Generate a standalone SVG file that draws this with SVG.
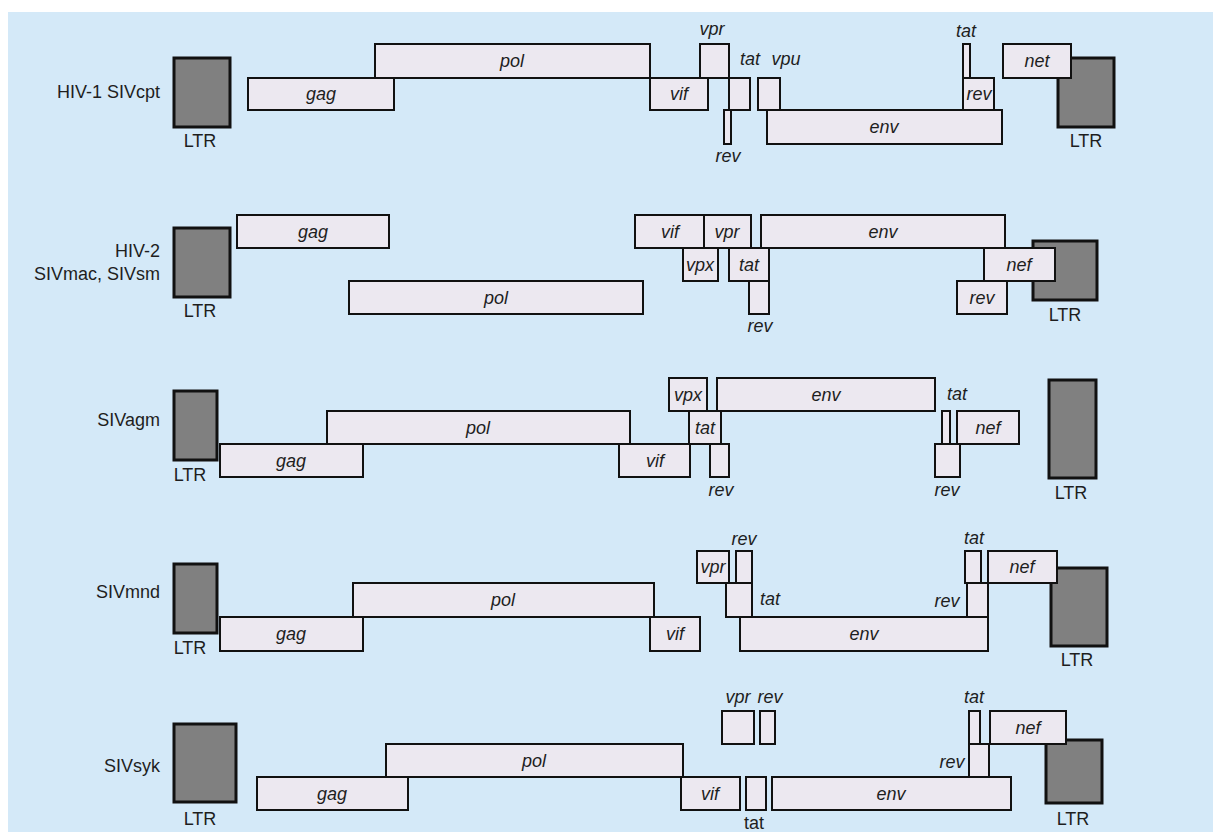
<svg xmlns="http://www.w3.org/2000/svg" width="1213" height="832" viewBox="0 0 1213 832">
<style>
.bg{fill:#d4e9f8}
.g rect{fill:#ece8f0;stroke:#111;stroke-width:2}
.ltr rect{fill:#808080;stroke:#111;stroke-width:3}
text{font-family:"Liberation Sans",Arial,sans-serif;font-size:18px;fill:#1e1e1e}
.i{font-style:italic;text-anchor:middle}
.n{text-anchor:middle}
.sp{text-anchor:end}
</style>
<rect class="bg" x="8" y="12" width="1205" height="820"/>
<g id="connectors"/>

<!-- Row 1: HIV-1 SIVcpt -->
<g id="r1-label"><text class="sp" x="160" y="98">HIV-1 SIVcpt</text></g>
<g id="r1-ltr5" class="ltr"><rect x="174" y="58" width="56" height="69"/><text class="n" x="200" y="147">LTR</text></g>
<g id="r1-gag" class="g"><rect x="248" y="78" width="146" height="32"/><text class="i" x="321" y="100">gag</text></g>
<g id="r1-pol" class="g"><rect x="375" y="44" width="275" height="34"/><text class="i" x="512" y="67">pol</text></g>
<g id="r1-vif" class="g"><rect x="650" y="78" width="58" height="32"/><text class="i" x="679" y="100">vif</text></g>
<g id="r1-vpr" class="g"><rect x="700" y="44" width="29" height="34"/><text class="i" x="712" y="35">vpr</text></g>
<g id="r1-tat1" class="g"><rect x="729" y="78" width="21" height="32"/><text class="i" x="750" y="65">tat</text></g>
<g id="r1-rev1" class="g"><rect x="724" y="110" width="7" height="34"/><text class="i" x="728" y="162">rev</text></g>
<g id="r1-vpu" class="g"><rect x="758" y="78" width="22" height="32"/><text class="i" x="786" y="65">vpu</text></g>
<g id="r1-env" class="g"><rect x="767" y="110" width="235" height="34"/><text class="i" x="884" y="133">env</text></g>
<g id="r1-tat2" class="g"><rect x="963" y="44" width="7" height="34"/><text class="i" x="966" y="37">tat</text></g>
<g id="r1-rev2" class="g"><rect x="963" y="78" width="31" height="32"/><text class="i" x="979" y="100">rev</text></g>
<g id="r1-ltr3" class="ltr"><rect x="1058" y="58" width="56" height="69"/><text class="n" x="1086" y="147">LTR</text></g>
<g id="r1-net" class="g"><rect x="1003" y="44" width="68" height="34"/><text class="i" x="1037" y="67">net</text></g>

<!-- Row 2: HIV-2 SIVmac, SIVsm -->
<g id="r2-label"><text class="sp" x="160" y="257">HIV-2</text><text class="sp" x="160" y="280">SIVmac, SIVsm</text></g>
<g id="r2-ltr5" class="ltr"><rect x="174" y="228" width="56" height="69"/><text class="n" x="200" y="317">LTR</text></g>
<g id="r2-gag" class="g"><rect x="237" y="215" width="152" height="33"/><text class="i" x="313" y="238">gag</text></g>
<g id="r2-pol" class="g"><rect x="349" y="281" width="294" height="33"/><text class="i" x="496" y="304">pol</text></g>
<g id="r2-vif" class="g"><rect x="635" y="215" width="69" height="33"/><text class="i" x="670" y="238">vif</text></g>
<g id="r2-vpr" class="g"><rect x="704" y="215" width="47" height="33"/><text class="i" x="727" y="238">vpr</text></g>
<g id="r2-env" class="g"><rect x="761" y="215" width="244" height="33"/><text class="i" x="883" y="238">env</text></g>
<g id="r2-vpx" class="g"><rect x="683" y="248" width="35" height="33"/><text class="i" x="700" y="271">vpx</text></g>
<g id="r2-tat" class="g"><rect x="729" y="248" width="40" height="33"/><text class="i" x="749" y="271">tat</text></g>
<g id="r2-rev1" class="g"><rect x="749" y="281" width="20" height="33"/><text class="i" x="760" y="332">rev</text></g>
<g id="r2-rev2" class="g"><rect x="957" y="281" width="50" height="33"/><text class="i" x="982" y="304">rev</text></g>
<g id="r2-ltr3" class="ltr"><rect x="1033" y="241" width="64" height="59"/><text class="n" x="1065" y="321">LTR</text></g>
<g id="r2-nef" class="g"><rect x="984" y="248" width="71" height="33"/><text class="i" x="1019" y="271">nef</text></g>

<!-- Row 3: SIVagm -->
<g id="r3-label"><text class="sp" x="160" y="426">SIVagm</text></g>
<g id="r3-ltr5" class="ltr"><rect x="174" y="391" width="43" height="69"/><text class="n" x="190" y="481">LTR</text></g>
<g id="r3-gag" class="g"><rect x="220" y="444" width="143" height="33"/><text class="i" x="291" y="467">gag</text></g>
<g id="r3-pol" class="g"><rect x="327" y="411" width="303" height="33"/><text class="i" x="478" y="434">pol</text></g>
<g id="r3-vif" class="g"><rect x="619" y="444" width="71" height="33"/><text class="i" x="655" y="467">vif</text></g>
<g id="r3-vpx" class="g"><rect x="669" y="378" width="38" height="33"/><text class="i" x="688" y="401">vpx</text></g>
<g id="r3-tat1" class="g"><rect x="689" y="411" width="32" height="33"/><text class="i" x="705" y="434">tat</text></g>
<g id="r3-env" class="g"><rect x="717" y="378" width="218" height="33"/><text class="i" x="826" y="401">env</text></g>
<g id="r3-rev1" class="g"><rect x="710" y="444" width="19" height="33"/><text class="i" x="721" y="496">rev</text></g>
<g id="r3-tat2" class="g"><rect x="942" y="411" width="8" height="33"/><text class="i" x="957" y="400">tat</text></g>
<g id="r3-nef" class="g"><rect x="957" y="411" width="62" height="33"/><text class="i" x="988" y="434">nef</text></g>
<g id="r3-rev2" class="g"><rect x="935" y="444" width="25" height="33"/><text class="i" x="947" y="496">rev</text></g>
<g id="r3-ltr3" class="ltr"><rect x="1049" y="380" width="47" height="98"/><text class="n" x="1071" y="499">LTR</text></g>

<!-- Row 4: SIVmnd -->
<g id="r4-label"><text class="sp" x="160" y="598">SIVmnd</text></g>
<g id="r4-ltr5" class="ltr"><rect x="174" y="564" width="43" height="69"/><text class="n" x="190" y="654">LTR</text></g>
<g id="r4-gag" class="g"><rect x="220" y="617" width="143" height="34"/><text class="i" x="291" y="640">gag</text></g>
<g id="r4-pol" class="g"><rect x="353" y="583" width="301" height="34"/><text class="i" x="503" y="606">pol</text></g>
<g id="r4-vif" class="g"><rect x="650" y="617" width="50" height="34"/><text class="i" x="675" y="640">vif</text></g>
<g id="r4-vpr" class="g"><rect x="697" y="551" width="32" height="32"/><text class="i" x="713" y="573">vpr</text></g>
<g id="r4-rev1" class="g"><rect x="736" y="551" width="16" height="32"/><text class="i" x="744" y="545">rev</text></g>
<g id="r4-tat1" class="g"><rect x="726" y="583" width="26" height="34"/><text class="i" x="770" y="605">tat</text></g>
<g id="r4-env" class="g"><rect x="740" y="617" width="248" height="34"/><text class="i" x="864" y="640">env</text></g>
<g id="r4-tat2" class="g"><rect x="965" y="551" width="16" height="32"/><text class="i" x="974" y="544">tat</text></g>
<g id="r4-rev2" class="g"><rect x="967" y="583" width="21" height="34"/><text class="i" x="947" y="607">rev</text></g>
<g id="r4-ltr3" class="ltr"><rect x="1051" y="568" width="56" height="78"/><text class="n" x="1077" y="666">LTR</text></g>
<g id="r4-nef" class="g"><rect x="988" y="551" width="69" height="32"/><text class="i" x="1022" y="573">nef</text></g>

<!-- Row 5: SIVsyk -->
<g id="r5-label"><text class="sp" x="160" y="772">SIVsyk</text></g>
<g id="r5-ltr5" class="ltr"><rect x="174" y="724" width="62" height="78"/><text class="n" x="200" y="825">LTR</text></g>
<g id="r5-gag" class="g"><rect x="257" y="777" width="151" height="33"/><text class="i" x="332" y="800">gag</text></g>
<g id="r5-pol" class="g"><rect x="386" y="744" width="297" height="33"/><text class="i" x="534" y="767">pol</text></g>
<g id="r5-vif" class="g"><rect x="681" y="777" width="59" height="33"/><text class="i" x="710" y="800">vif</text></g>
<g id="r5-tat1" class="g"><rect x="746" y="777" width="20" height="33"/><text class="n" x="754" y="829">tat</text></g>
<g id="r5-env" class="g"><rect x="772" y="777" width="239" height="33"/><text class="i" x="891" y="800">env</text></g>
<g id="r5-vpr" class="g"><rect x="722" y="711" width="32" height="33"/><text class="i" x="738" y="703">vpr</text></g>
<g id="r5-rev1" class="g"><rect x="760" y="711" width="15" height="33"/><text class="i" x="770" y="703">rev</text></g>
<g id="r5-tat2" class="g"><rect x="969" y="711" width="11" height="33"/><text class="i" x="974" y="703">tat</text></g>
<g id="r5-rev2" class="g"><rect x="969" y="744" width="20" height="33"/><text class="i" x="952" y="768">rev</text></g>
<g id="r5-ltr3" class="ltr"><rect x="1046" y="740" width="56" height="63"/><text class="n" x="1073" y="825">LTR</text></g>
<g id="r5-nef" class="g"><rect x="990" y="711" width="76" height="33"/><text class="i" x="1028" y="734">nef</text></g>
</svg>
